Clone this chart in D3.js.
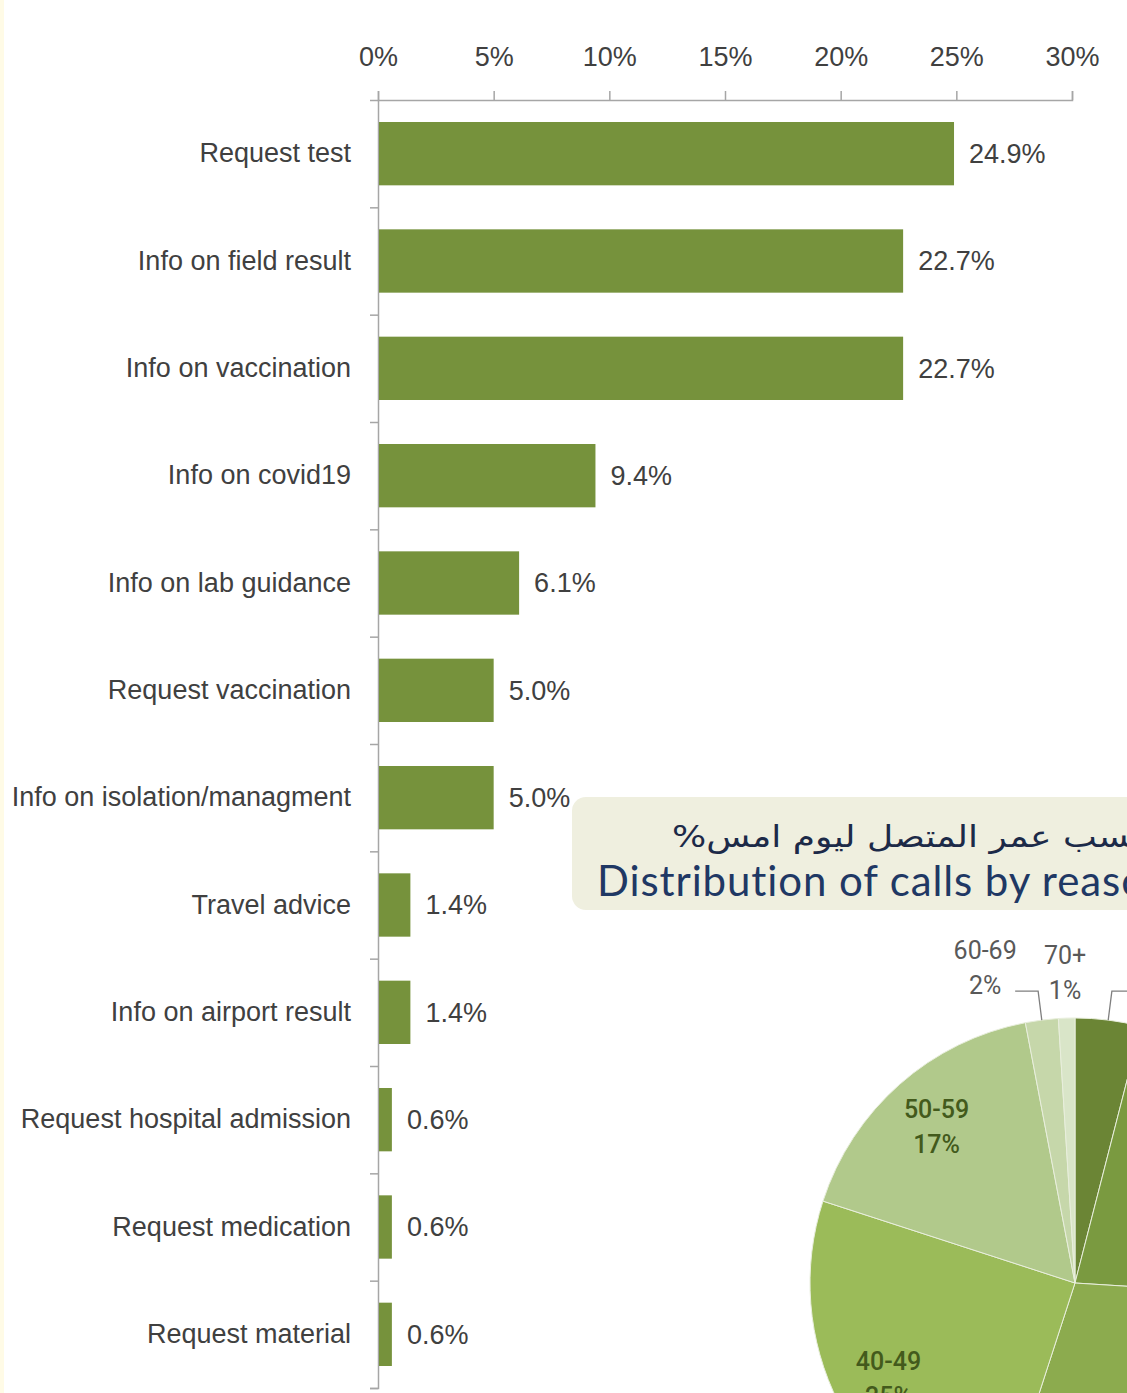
<!DOCTYPE html>
<html>
<head>
<meta charset="utf-8">
<script src="https://cdn.jsdelivr.net/npm/d3@7"></script>
<style>
  html, body { margin: 0; padding: 0; background: #fff; }
  svg { display: block; }
</style>
</head>
<body>
<div id="chart"></div>
<script>
const width = 1127;
const height = 1393;

// bar chart data
const categories = [
  "Request test", "Info on field result", "Info on vaccination", "Info on covid19",
  "Info on lab guidance", "Request vaccination", "Info on isolation/managment",
  "Travel advice", "Info on airport result", "Request hospital admission",
  "Request medication", "Request material"
];
const shares = [24.9, 22.7, 22.7, 9.4, 6.1, 5.0, 5.0, 1.4, 1.4, 0.6, 0.6, 0.6];
const xTicks = [0, 5, 10, 15, 20, 25, 30];

// pie data (calls by age, clockwise from 12 o'clock)
const ageGroups = ["<20", "20-29", "30-39", "40-49", "50-59", "60-69", "70+"];
const agePct = [4, 22, 29, 25, 17, 2, 1];
const ageColors = ["#6b8535", "#7a9a40", "#8cab4e", "#9bbb59", "#b1c98b", "#c6d7aa", "#d9e5c8"];

const titleAr = "توزيع المكالمات حسب عمر المتصل ليوم امس%";
const titleEn = "Distribution of calls by reason";

const margin = {top: 100, right: 55, bottom: 5, left: 378};
const narrow = "'Liberation Sans Narrow', 'Arial Narrow', sans-serif";

const svg = d3.select("#chart").append("svg")
    .attr("width", width)
    .attr("height", height);

svg.append("rect").attr("width", width).attr("height", height).attr("fill", "#fff");
svg.append("rect").attr("width", 4).attr("height", height).attr("fill", "#fffbe6");

const x = d3.scaleLinear()
    .domain([0, 30])
    .range([margin.left, width - margin.right]);

const y = d3.scaleBand()
    .domain(categories)
    .range([margin.top, height - margin.bottom])
    .paddingInner(0.41)
    .paddingOuter(0.205);

const yEdge = d3.scaleLinear()
    .domain([0, categories.length])
    .range([margin.top, height - margin.bottom]);

// top axis
const gx = svg.append("g")
    .attr("transform", `translate(0, ${margin.top})`)
    .call(d3.axisTop(x).tickValues(xTicks).tickSize(9).tickPadding(25).tickFormat(d => d + "%"));
gx.select(".domain").attr("stroke", "#a6a6a6").attr("stroke-width", 1.5);
gx.selectAll(".tick line").attr("stroke", "#a6a6a6").attr("stroke-width", 1.5);
gx.selectAll(".tick text")
    .attr("fill", "#404040")
    .style("font-family", narrow)
    .style("font-size", "27px");

// left axis with ticks on category edges
const gy = svg.append("g")
    .attr("transform", `translate(${margin.left}, 0)`)
    .call(d3.axisLeft(yEdge).tickValues(d3.range(1, categories.length + 1)).tickSize(8).tickFormat(""));
gy.select(".domain").attr("stroke", "#a6a6a6").attr("stroke-width", 1.5);
gy.selectAll(".tick line").attr("stroke", "#a6a6a6").attr("stroke-width", 1.5);

const gl = svg.append("g")
    .attr("transform", `translate(${margin.left - 27}, 0)`)
    .call(d3.axisLeft(y).tickSize(0).tickPadding(0));
gl.select(".domain").remove();
gl.selectAll(".tick text")
    .attr("fill", "#404040")
    .style("font-family", narrow)
    .style("font-size", "27px");

svg.append("g")
  .selectAll("rect")
  .data(categories)
  .join("rect")
    .attr("x", x(0) + 1)
    .attr("y", d => y(d))
    .attr("width", (d, i) => x(shares[i]) - x(0) - 1)
    .attr("height", y.bandwidth())
    .attr("fill", "#76923c");

svg.append("g")
  .selectAll("text")
  .data(categories)
  .join("text")
    .attr("x", (d, i) => x(shares[i]) + 15)
    .attr("y", d => y(d) + y.bandwidth() / 2)
    .attr("dy", "0.35em")
    .attr("fill", "#404040")
    .style("font-family", narrow)
    .style("font-size", "27px")
    .text((d, i) => shares[i].toFixed(1) + "%");

// title box of the pie
const tb = svg.append("g");
tb.append("rect")
    .attr("x", 572).attr("y", 797)
    .attr("width", 620).attr("height", 113)
    .attr("rx", 14)
    .attr("fill", "#efefdf");
tb.append("text")
    .attr("transform", "translate(672, 847) scale(1.2, 1)")
    .attr("direction", "rtl")
    .style("direction", "rtl")
    .attr("text-anchor", "end")
    .attr("fill", "#1c2a48")
    .style("font-family", "'DejaVu Sans', sans-serif")
    .style("font-size", "30px")
    .text(titleAr);
tb.append("text")
    .attr("x", 597).attr("y", 896)
    .attr("fill", "#1f3864")
    .style("font-family", "Lato, 'Open Sans', sans-serif")
    .style("font-size", "42px")
    .style("letter-spacing", "0.9px")
    .text(titleEn);

// pie
const cx = 1075, cy = 1283, r = 265;
const pie = d3.pie().sort(null).value(d => d)(agePct);
const arc = d3.arc().innerRadius(0).outerRadius(r);
const gp = svg.append("g").attr("transform", `translate(${cx}, ${cy})`);

gp.selectAll("path")
  .data(pie)
  .join("path")
    .attr("d", arc)
    .attr("fill", (d, i) => ageColors[i])
    .attr("stroke", "#e8eedc")
    .attr("stroke-width", 1);

const labelFont = "Roboto, 'Open Sans', sans-serif";
pie.forEach((d, i) => {
  const mid = (d.startAngle + d.endAngle) / 2;
  const sx = Math.sin(mid), sy = -Math.cos(mid);
  if (agePct[i] >= 5) {
    const lx = sx * r * 0.79, ly = sy * r * 0.79;
    const t = gp.append("text")
        .attr("text-anchor", "middle")
        .attr("fill", "#435a1c")
        .style("font-family", labelFont)
        .style("font-weight", 500)
        .style("font-size", "25px");
    t.append("tspan").attr("x", lx).attr("y", ly - 8).text(ageGroups[i]);
    t.append("tspan").attr("x", lx).attr("y", ly + 27).text(agePct[i] + "%");
  } else {
    let ox = sx * r * 1.2, oy = sy * r * 1.2;
    let shift = Math.abs(ox) < 15 ? 0 : Math.sign(ox) * 50;
    const lx = ox + shift;
    if (shift !== 0) {
      const ex = sx * r * 1.11, ey = sy * r * 1.11;
      gp.append("path")
          .attr("d", d3.line()([[sx * r, sy * r], [ex, ey], [lx - Math.sign(shift) * 30, ey]]))
          .attr("fill", "none")
          .attr("stroke", "#7f7f7f")
          .attr("stroke-width", 1.3);
    }
    const t = gp.append("text")
        .attr("text-anchor", "middle")
        .attr("fill", "#595959")
        .style("font-family", labelFont)
        .style("font-size", "25px");
    t.append("tspan").attr("x", lx).attr("y", oy - 9 + (shift ? 0 : 8)).text(ageGroups[i]);
    t.append("tspan").attr("x", lx).attr("y", oy + 26 + (shift ? 0 : 8)).text(agePct[i] + "%");
  }
});
</script>
</body>
</html>
